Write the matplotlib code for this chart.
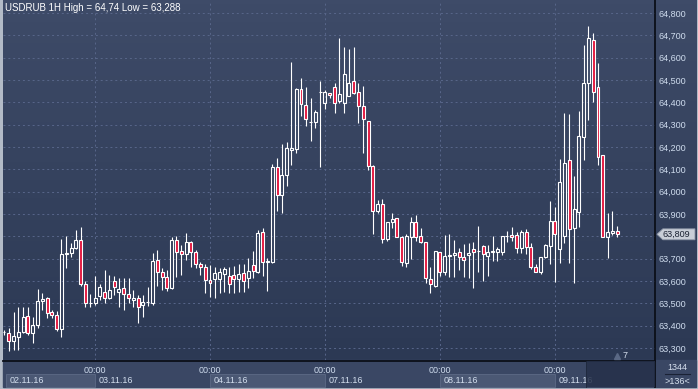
import numpy as np
import matplotlib.pyplot as plt
from matplotlib.patches import Rectangle, Polygon
from matplotlib.colors import LinearSegmentedColormap
import matplotlib.transforms as mtransforms

# USDRUB 1H candles, 02.11.16 05:00 .. 09.11.16 13:00
opens = [63.370, 63.368, 63.333, 63.351, 63.373, 63.442, 63.368, 63.401, 63.512, 63.522,
         63.459, 63.446, 63.383, 63.719, 63.724, 63.746, 63.782, 63.585, 63.500, 63.500,
         63.534, 63.549, 63.525, 63.600, 63.550, 63.567, 63.540, 63.516, 63.522, 63.491,
         63.504, 63.500, 63.692, 63.639, 63.616, 63.567, 63.782, 63.734, 63.719, 63.773,
         63.728, 63.674, 63.661, 63.604, 63.607, 63.607, 63.630, 63.622, 63.627, 63.607,
         63.634, 63.612, 63.671, 63.642, 63.818, 63.683, 63.686, 64.109, 63.983, 64.075,
         64.187, 64.189, 64.458, 64.388, 64.310, 64.310, 64.446, 64.398, 64.440, 64.467,
         64.406, 64.395, 64.430, 64.497, 64.445, 64.385, 64.318, 64.115, 63.915, 63.945,
         63.786, 63.866, 63.880, 63.798, 63.679, 63.798, 63.863, 63.801, 63.773, 63.609,
         63.579, 63.728, 63.639, 63.713, 63.716, 63.728, 63.709, 63.715, 63.745, 63.733,
         63.758, 63.713, 63.731, 63.731, 63.728, 63.801, 63.805, 63.804, 63.746, 63.819,
         63.751, 63.661, 63.642, 63.706, 63.757, 63.868, 63.742, 63.801, 64.142, 63.836,
         63.910, 64.246, 64.488, 64.679, 64.467, 64.163, 63.795, 63.816, 63.824]
highs = [63.380, 63.388, 63.459, 63.482, 63.482, 63.482, 63.440, 63.562, 63.545, 63.527,
         63.470, 63.467, 63.786, 63.801, 63.768, 63.828, 63.840, 63.600, 63.540, 63.622,
         63.586, 63.649, 63.627, 63.624, 63.612, 63.612, 63.612, 63.559, 63.537, 63.537,
         63.571, 63.727, 63.739, 63.656, 63.649, 63.798, 63.801, 63.761, 63.813, 63.779,
         63.739, 63.686, 63.676, 63.671, 63.661, 63.657, 63.664, 63.661, 63.667, 63.676,
         63.676, 63.701, 63.734, 63.828, 63.836, 63.701, 64.124, 64.149, 64.212, 64.224,
         64.582, 64.463, 64.507, 64.467, 64.418, 64.365, 64.495, 64.455, 64.443, 64.485,
         64.687, 64.646, 64.637, 64.646, 64.485, 64.473, 64.318, 64.119, 63.963, 63.967,
         63.866, 63.906, 63.880, 63.803, 63.810, 63.885, 63.895, 63.836, 63.773, 63.661,
         63.734, 63.731, 63.806, 63.810, 63.783, 63.746, 63.766, 63.769, 63.773, 63.846,
         63.761, 63.761, 63.801, 63.751, 63.801, 63.825, 63.840, 63.821, 63.828, 63.831,
         63.769, 63.676, 63.709, 63.764, 63.958, 63.933, 64.145, 64.351, 64.347, 64.070,
         64.362, 64.657, 64.740, 64.709, 64.575, 64.163, 63.903, 63.915, 63.846]
lows = [63.360, 63.288, 63.290, 63.290, 63.365, 63.358, 63.324, 63.388, 63.470, 63.433,
        63.433, 63.377, 63.350, 63.656, 63.709, 63.742, 63.577, 63.482, 63.482, 63.492,
        63.515, 63.503, 63.518, 63.537, 63.482, 63.470, 63.500, 63.485, 63.413, 63.440,
        63.488, 63.492, 63.577, 63.560, 63.557, 63.563, 63.619, 63.627, 63.694, 63.661,
        63.657, 63.627, 63.548, 63.530, 63.522, 63.545, 63.552, 63.545, 63.545, 63.549,
        63.552, 63.570, 63.615, 63.637, 63.622, 63.557, 63.679, 63.913, 63.903, 64.025,
        64.119, 64.172, 64.339, 64.295, 64.228, 64.286, 64.112, 64.370, 64.418, 64.351,
        64.398, 64.351, 64.430, 64.437, 64.309, 64.174, 64.097, 63.810, 63.903, 63.772,
        63.780, 63.839, 63.795, 63.669, 63.664, 63.698, 63.780, 63.768, 63.589, 63.548,
        63.574, 63.624, 63.627, 63.616, 63.619, 63.649, 63.616, 63.615, 63.567, 63.642,
        63.600, 63.622, 63.689, 63.689, 63.716, 63.776, 63.780, 63.724, 63.727, 63.719,
        63.652, 63.642, 63.631, 63.701, 63.676, 63.597, 63.679, 63.770, 63.680, 63.590,
        63.840, 64.142, 64.321, 64.400, 64.119, 63.795, 63.701, 63.806, 63.798]
closes = [63.370, 63.333, 63.353, 63.373, 63.437, 63.365, 63.401, 63.509, 63.521, 63.455,
          63.447, 63.383, 63.719, 63.725, 63.746, 63.782, 63.585, 63.503, 63.503, 63.522,
          63.571, 63.525, 63.559, 63.571, 63.562, 63.540, 63.522, 63.522, 63.485, 63.504,
          63.507, 63.689, 63.639, 63.616, 63.567, 63.782, 63.731, 63.719, 63.773, 63.728,
          63.674, 63.661, 63.604, 63.589, 63.634, 63.642, 63.652, 63.585, 63.607, 63.631,
          63.601, 63.645, 63.646, 63.813, 63.683, 63.689, 64.109, 63.983, 64.075, 64.194,
          64.194, 64.458, 64.391, 64.324, 64.312, 64.358, 64.448, 64.448, 64.431, 64.398,
          64.436, 64.525, 64.485, 64.440, 64.385, 64.324, 64.116, 63.915, 63.945, 63.786,
          63.863, 63.877, 63.798, 63.683, 63.801, 63.863, 63.798, 63.773, 63.612, 63.585,
          63.734, 63.639, 63.713, 63.716, 63.724, 63.709, 63.694, 63.724, 63.728, 63.735,
          63.719, 63.731, 63.733, 63.741, 63.801, 63.803, 63.798, 63.746, 63.819, 63.751,
          63.661, 63.642, 63.706, 63.761, 63.868, 63.810, 64.045, 64.127, 63.831, 63.921,
          64.249, 64.485, 64.687, 64.448, 64.154, 63.795, 63.821, 63.824, 63.809]

price_ticks = [63.3, 63.4, 63.5, 63.6, 63.7, 63.8, 63.9, 64.0, 64.1, 64.2, 64.3, 64.4, 64.5, 64.6, 64.7, 64.8]
day_starts = [19, 43, 67, 91, 115]          # bar index of 00:00
day_labels = ['02.11.16', '03.11.16', '04.11.16', '07.11.16', '08.11.16', '09.11.16']
title = 'USDRUB 1H High = 64,74 Low = 63,288'
last_price = 63.809

W, H = 698, 389
fig = plt.figure(figsize=(W / 100, H / 100), dpi=100, facecolor='#b3bbc7')

# background panel in pixel coordinates
bg = fig.add_axes([0, 0, 1, 1])
bg.set_xlim(0, W)
bg.set_ylim(H, 0)
bg.axis('off')
grad = LinearSegmentedColormap.from_list('g', ['#3e4b68', '#2c3954'])
bg.imshow(np.linspace(0, 1, 100).reshape(-1, 1), cmap=grad, aspect='auto',
          extent=[2.5, 696, 360, 0], zorder=0)
bg.add_patch(Rectangle((2.5, 360), 693.5, 27, color='#3a4764', zorder=1))
bg.plot([655, 655], [0, 387], color='#0b0f18', lw=1.3, zorder=5)
bg.plot([2.5, 655], [360.5, 360.5], color='#0b0f18', lw=1.3, zorder=5)
bg.text(677, 367, '1344', color='#d6e0ee', fontsize=6.5, ha='center', va='center',
        family='Liberation Sans', zorder=6)
bg.plot([665, 690], [374, 374], color='#1a2235', lw=0.8, zorder=6)
bg.text(677, 382, '>136<', color='#d6e0ee', fontsize=6.5, ha='center', va='center',
        family='Liberation Sans', zorder=6)

ax = fig.add_axes([3 / W, (H - 360) / H, 652 / W, 357 / H])
ax.set_zorder(2)
ax.patch.set_visible(False)
for s in ax.spines.values():
    s.set_visible(False)

x = np.arange(len(opens))
o = np.array(opens)
c = np.array(closes)
hi = np.array(highs)
lo = np.array(lows)
top = np.maximum(o, c)
bot = np.minimum(o, c)
up = c >= o

ax.vlines(x, lo, bot, color='white', lw=0.8, zorder=3)
ax.vlines(x, top, hi, color='white', lw=0.8, zorder=3)
ax.bar(x[up], np.maximum(top[up] - bot[up], 0.0005), bottom=bot[up], width=0.62,
       facecolor='none', edgecolor='white', lw=0.8, zorder=4)
ax.bar(x[~up], np.maximum(top[~up] - bot[~up], 0.0005), bottom=bot[~up], width=0.62,
       facecolor='#e3173e', edgecolor='white', lw=0.8, zorder=4)

ax.set_xlim(-0.21, 135.9)
ax.set_ylim(63.246, 64.845)

# the price tag sits on top of the 63,800 label, so that one stays blank
ax.yaxis.tick_right()
ax.set_yticks(price_ticks)
ax.set_yticklabels(['' if abs(p - last_price) < 0.03 else '{:.3f}'.format(p).replace('.', ',')
                    for p in price_ticks])
ax.set_xticks(day_starts)
ax.set_xticklabels(['00:00'] * len(day_starts))
ax.tick_params(axis='both', length=0, colors='#cfdcee', labelsize=6.5)
ax.tick_params(axis='y', pad=2.3)
ax.tick_params(axis='x', pad=4.5)
for t in ax.get_xticklabels() + ax.get_yticklabels():
    t.set_family('Liberation Sans')
ax.grid(True, color='#58668a', lw=0.7, linestyle=(0, (2, 3)), zorder=1)

# date boxes under the axis
xa = ax.get_xaxis_transform()
edges = [0.5] + day_starts + [day_starts[-1] + 24]
for k, lab in enumerate(day_labels):
    if k % 2 == 0:
        ax.add_patch(Rectangle((edges[k], -0.0756), edges[k + 1] - edges[k], 0.0364,
                               transform=xa, clip_on=False, facecolor='#4b5874',
                               edgecolor='#5d6a86', lw=0.6, zorder=2))
    ax.text(edges[k] + 0.75, -0.057, lab, transform=xa, color='#d3deee', fontsize=6.5,
            va='center', ha='left', family='Liberation Sans', clip_on=False, zorder=3)

# dark area at the right end of the time strip
ax.add_patch(Rectangle((121.7, -0.075), 135.9 - 121.7, 0.072, transform=xa, clip_on=False,
                       facecolor='#253049', alpha=0.85, edgecolor='none', zorder=5))
ax.plot([121.6, 121.6], [-0.075, -0.003], transform=xa, clip_on=False,
        color='#1c2538', lw=0.6, zorder=6)

# marker under the last bar
n = len(opens) - 1
ax.plot([n], [0.011], transform=xa, marker='^', ms=4, color='#5a6884', clip_on=False, zorder=5)
ax.text(n + 1.2, 0.013, '7', transform=xa, color='#d6e0ee', fontsize=6.5,
        va='center', ha='left', family='Liberation Sans', zorder=5)

# current price tag
ya = mtransforms.blended_transform_factory(ax.transAxes, ax.transData)
dh = 0.0245
tag = Polygon([(1.003, last_price), (1.012, last_price + dh), (1.0613, last_price + dh),
               (1.0613, last_price - dh), (1.012, last_price - dh)], closed=True,
              transform=ya, clip_on=False, facecolor='#c9ced8', edgecolor='#8e97a8',
              lw=0.6, zorder=10)
ax.add_patch(tag)
ax.text(1.0115, last_price, '{:.3f}'.format(last_price).replace('.', ','), transform=ya,
        color='#1b2233', fontsize=6.5, va='center', ha='left', family='Liberation Sans',
        zorder=11)

ax.text(0.003, 0.986, title, transform=ax.transAxes, color='white', fontsize=7,
        va='center', ha='left', family='Liberation Sans', zorder=6)

fig.savefig('out.png', dpi=100)
